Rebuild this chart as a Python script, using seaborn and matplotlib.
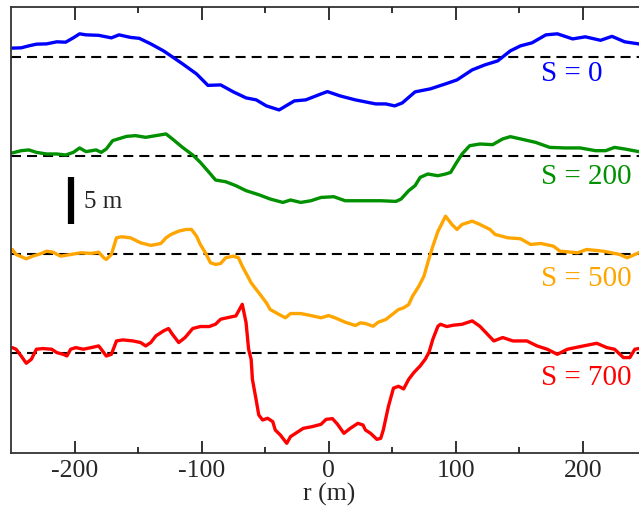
import numpy as np
import pandas as pd
import matplotlib
matplotlib.use("Agg")
import matplotlib.pyplot as plt
import seaborn as sns

# profiles: r (m) and height (m) relative to each baseline
r_s0 = [-249, -242, -236, -230, -222, -214, -207, -201, -196, -191, -181, -171, -165, -156, -149,
        -140, -130, -123, -115, -104, -95, -85, -75, -65, -57, -49, -39, -27, -18, -6, -1, 9, 21,
        37, 45, 52, 58, 68, 80, 92, 101, 113, 123, 133, 143, 151, 160, 171, 180, 192, 202, 214,
        223, 233, 244, 250]
h_s0 = [0.93, 0.96, 1.17, 1.35, 1.38, 1.6, 1.56, 2.02, 2.45, 2.34, 2.29, 2.02, 2.34, 2.07, 1.97,
        1.38, 0.64, 0.0, -0.74, -1.81, -3.03, -2.98, -3.72, -4.36, -4.57, -5.21, -5.64, -4.68,
        -4.57, -3.94, -3.69, -4.15, -4.57, -5.0, -5.0, -5.21, -4.89, -3.72, -3.4, -2.87, -2.45,
        -1.38, -0.85, -0.43, 0.64, 1.17, 1.49, 2.34, 2.45, 1.91, 2.13, 1.76, 2.18, 1.6, 1.38, 1.3]

r_s200 = [-249, -242, -236, -230, -222, -214, -207, -201, -196, -191, -183, -179, -175, -170,
          -159, -152, -144, -136, -128, -123, -115, -107, -101, -93, -89, -81, -73, -65, -55,
          -46, -36, -30, -22, -14, -6, 4, 13, 25, 41, 53, 57, 63, 68, 72, 78, 86, 92, 96, 100,
          105, 111, 119, 129, 137, 143, 151, 163, 174, 186, 198, 210, 218, 225, 233, 244, 250]
h_s200 = [0.29, 0.53, 0.61, 0.35, 0.18, 0.18, 0.07, 0.35, 0.82, 0.43, 0.61, 0.35, 0.71, 1.6,
          2.05, 2.13, 1.95, 2.13, 2.31, 1.78, 0.88, 0.07, -0.71, -1.95, -2.59, -2.77, -3.19,
          -3.72, -4.15, -4.61, -4.97, -4.71, -4.97, -4.79, -4.44, -4.36, -4.79, -4.79, -4.79,
          -4.86, -4.61, -3.72, -3.19, -2.31, -1.95, -2.13, -1.95, -1.78, -0.88, 0.18, 1.06,
          1.24, 1.17, 1.78, 2.02, 1.78, 1.41, 0.88, 0.82, 0.82, 0.53, 0.53, 0.88, 0.71, 0.43, 0.4]

r_s500 = [-249, -246, -238, -233, -226, -222, -217, -211, -203, -195, -187, -181, -177, -175,
          -171, -167, -163, -156, -148, -140, -132, -128, -124, -118, -112, -108, -104, -101,
          -97, -93, -89, -85, -81, -75, -71, -68, -61, -55, -49, -46, -39, -34, -30, -22, -14,
          -6, 0, 5, 13, 21, 25, 29, 35, 39, 45, 50, 55, 59, 63, 66, 71, 75, 78, 80, 82, 86, 92,
          97, 101, 105, 113, 119, 127, 131, 141, 151, 159, 167, 177, 182, 196, 203, 216, 229,
          235, 241, 244, 250]
h_s500 = [0.53, 0.0, -0.46, -0.18, 0.11, 0.35, 0.24, -0.18, 0.0, 0.18, 0.11, 0.24, -0.35, -0.53,
          0.0, 1.77, 1.88, 1.77, 1.24, 0.96, 1.17, 1.77, 2.13, 2.48, 2.66, 2.66, 1.95, 1.06,
          0.18, -0.88, -1.06, -0.96, -0.35, -0.18, -0.35, -1.24, -3.01, -4.07, -5.14, -5.85,
          -6.38, -6.73, -6.28, -6.28, -6.49, -6.73, -6.49, -6.73, -7.2, -7.55, -7.27, -7.34,
          -7.63, -7.2, -6.91, -6.38, -5.85, -5.67, -5.32, -4.44, -3.37, -2.31, -0.88, 0.0, 0.88,
          2.45, 4.07, 3.19, 2.66, 3.19, 3.54, 3.19, 2.66, 2.13, 1.77, 1.67, 1.06, 1.17, 0.88,
          0.35, 0.18, 0.53, 0.35, 0.0, -0.35, 0.0, 0.18, 0.2]

r_s700 = [-249, -246, -242, -238, -234, -230, -225, -218, -214, -209, -206, -203, -199, -193,
          -187, -181, -179, -175, -171, -167, -162, -154, -148, -144, -140, -136, -130, -126,
          -123, -118, -113, -107, -101, -94, -89, -85, -79, -73, -68, -65, -63, -61, -60, -57,
          -55, -52, -48, -44, -42, -38, -33, -30, -24, -20, -13, -6, -2, 3, 7, 12, 17, 23, 27,
          29, 33, 38, 41, 43, 47, 51, 55, 59, 63, 67, 72, 76, 79, 82, 86, 88, 93, 98, 105, 113,
          119, 125, 130, 137, 145, 156, 164, 172, 180, 188, 198, 211, 219, 225, 232, 237, 241,
          244, 250]
h_s700 = [0.6, 0.43, -0.29, -1.06, -0.64, 0.43, 0.5, 0.43, 0.07, -0.11, -0.29, 0.43, 0.6, 0.43,
          0.6, 0.78, 0.43, -0.29, -0.11, 1.31, 1.42, 1.31, 1.14, 0.78, 1.14, 1.84, 2.37, 2.63,
          2.02, 1.14, 1.67, 2.63, 2.84, 2.84, 3.09, 3.62, 3.8, 3.97, 5.2, 3.26, 0.43, -0.64,
          -2.77, -5.0, -6.56, -7.09, -6.91, -7.27, -8.16, -8.69, -9.57, -8.86, -8.33, -7.98,
          -7.8, -7.55, -7.02, -6.95, -7.55, -8.51, -7.98, -7.45, -7.62, -8.16, -8.51, -9.15,
          -9.04, -8.16, -5.67, -3.71, -3.51, -3.79, -2.77, -2.06, -1.35, -0.64, 0.11, 1.49, 2.87,
          3.08, 2.84, 2.98, 3.08, 3.44, 2.87, 2.02, 1.31, 1.67, 1.31, 1.31, 0.78, 0.43, -0.11,
          0.43, 0.71, 1.06, 0.6, 0.43, -0.46, -0.46, 0.43, 0.5, 0.5]

labels = ["S = 0", "S = 200", "S = 500", "S = 700"]
colors = ["#0000ff", "#009000", "#ffa500", "#ff0000"]
offsets = [0.0, -10.5, -21.0, -31.5]
label_dy = [-2.6, -3.0, -3.3, -3.4]
xticks_major = [-200, -100, 0, 100, 200]
xticks_minor = [-150, -50, 50, 150]

sns.set_theme(style="ticks")
plt.rcParams["font.family"] = ["Liberation Serif", "DejaVu Serif"]
plt.rcParams["axes.unicode_minus"] = False

fig = plt.figure(figsize=(6.39, 5.07), dpi=100)
ax = fig.add_axes([11 / 639, 54 / 507, 635.3 / 639, 446 / 507])

profiles = [(r_s0, h_s0), (r_s200, h_s200), (r_s500, h_s500), (r_s700, h_s700)]
for (r, h), off, col, lab, dy in zip(profiles, offsets, colors, labels, label_dy):
    df = pd.DataFrame({"r": r, "z": np.array(h) + off})
    ax.axhline(off, color="black", lw=1.5, dashes=(4.8, 2.9), zorder=1)
    sns.lineplot(data=df, x="r", y="z", color=col, lw=2.4, ax=ax, zorder=2)
    ax.text(167, off + dy, lab, color=col, fontsize=21, ha="left", va="baseline")

# 5 m scale bar
ax.plot([-202.5, -202.5], [-12.75, -17.75], color="black", lw=4.5, solid_capstyle="butt")
ax.text(-192.5, -15.4, "5 m", fontsize=18, ha="left", va="center")

ax.set_xlim(-250, 250)
ax.set_ylim(-42.1, 5.3)
ax.set_xticks(xticks_major)
ax.set_xticks(xticks_minor, minor=True)
ax.set_yticks([])
ax.set_axisbelow(False)
ax.tick_params(axis="x", which="both", direction="in", top=True, bottom=True,
               labelsize=18.5, pad=5, color="#222222")
ax.tick_params(axis="x", which="major", length=9, width=1.3)
ax.tick_params(axis="x", which="minor", length=4.5, width=1.3)
for s in ax.spines.values():
    s.set_color("#333333")
    s.set_linewidth(1.3)
ax.set_xlabel("r (m)", fontsize=18.5, labelpad=1)
ax.set_ylabel("")

fig.savefig("out.png", dpi=100)
